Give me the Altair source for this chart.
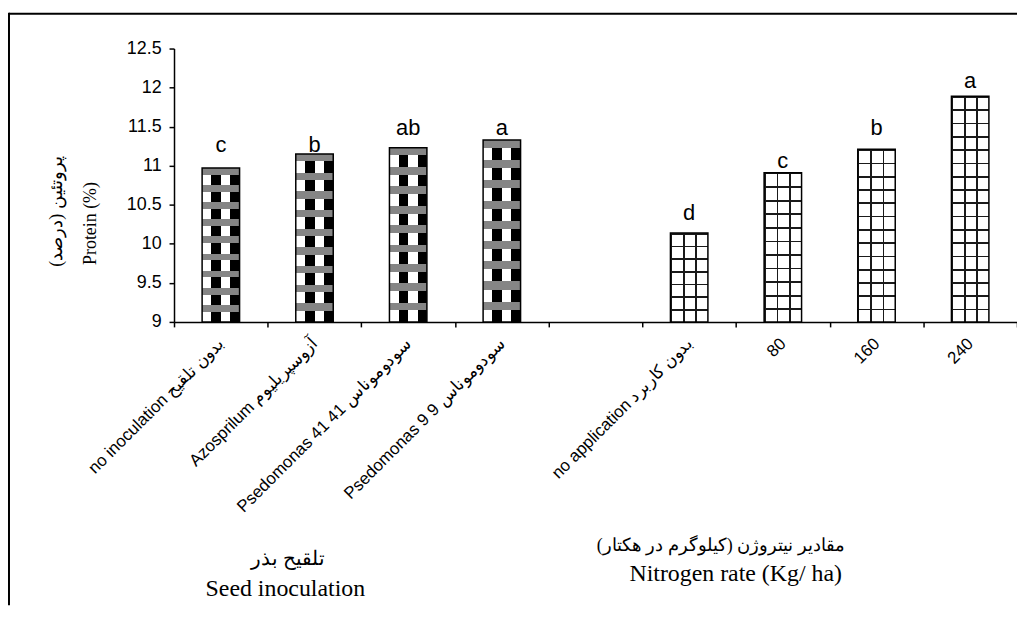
import altair as alt

# ---------------- data ----------------
inoc_en = ["no inoculation", "Azosprilum", "Psedomonas 41", "Psedomonas 9"]
inoc_fa = ["بدون تلقیح", "آزوسپریلیوم", "سودوموناس 41", "سودوموناس 9"]
inoc_protein = [10.97, 11.15, 11.23, 11.33]
inoc_letters = ["c", "b", "ab", "a"]
inoc_letter_at = [11.17, 11.17, 11.39, 11.39]

nitro_en = ["no application", "80", "160", "240"]
nitro_fa = ["بدون کاربرد", "", "", ""]
nitro_protein = [10.14, 10.91, 11.21, 11.89]
nitro_letters = ["d", "c", "b", "a"]
nitro_letter_at = [10.30, 10.97, 11.39, 12.00]

y_ticks = [9, 9.5, 10, 10.5, 11, 11.5, 12, 12.5]
y_title_fa = "پروتئین (درصد)"
y_title_en = "Protein (%)"
inoc_title_fa = "تلقیح بذر"
inoc_title_en = "Seed inoculation"
nitro_title_fa = "مقادیر نیتروژن (کیلوگرم در هکتار)"
nitro_title_en = "Nitrogen rate (Kg/ ha)"
GAP = " "

RLM = "\u200f"


def rtl(s):
    return RLM + s + RLM


def label(en, fa):
    return en + ("   " + fa if fa else "")


inoc_labels = [label(e, f) for e, f in zip(inoc_en, inoc_fa)]
nitro_labels = [label(e, f) for e, f in zip(nitro_en, nitro_fa)]
domain = inoc_labels + [GAP] + nitro_labels

CLEAR = "rgba(255,255,255,0)"


def stripes(direction, n, frac, color, base):
    stops = []
    for k in range(n):
        a = k / n
        b = (k + frac) / n
        c = (k + 1) / n
        stops += [
            {"offset": a, "color": color},
            {"offset": b, "color": color},
            {"offset": b, "color": base},
            {"offset": c, "color": base},
        ]
    return {
        "gradient": "linear",
        "stops": stops,
        "x1": 0,
        "y1": 0,
        "x2": 1 if direction == "x" else 0,
        "y2": 0 if direction == "x" else 1,
    }


records = []
for lab, v, let, la in zip(inoc_labels, inoc_protein, inoc_letters, inoc_letter_at):
    records.append({"cat": lab, "group": "inoc", "protein": v, "letter": let, "la": la,
                    "pat": stripes("y", 9, 0.4, "#858585", CLEAR)})
for lab, v, let, la in zip(nitro_labels, nitro_protein, nitro_letters, nitro_letter_at):
    n = max(1, round((v - 9) * 6))
    records.append({"cat": lab, "group": "nitro", "protein": v, "letter": let, "la": la,
                    "pat": stripes("y", n, 0.13, "#1a1a1a", CLEAR)})

data = alt.Data(values=records)

x_scale = alt.Scale(domain=domain, paddingInner=0, paddingOuter=0)
y_scale = alt.Scale(domain=[9, 12.5], nice=False, zero=False)


def x_axis():
    return alt.Axis(title="", labelAngle=315, tickBand="extent", labelFontSize=17,
                    labelPadding=14, labelAlign="right", labelBaseline="middle")


def y_axis():
    return alt.Axis(values=y_ticks, format="~g", title="", labelFontSize=18, labelPadding=8)


letters = alt.Chart(data).mark_text(
    font="Liberation Sans", fontSize=22, align="center", baseline="alphabetic", color="black"
).encode(
    x=alt.X("cat:N", scale=x_scale, sort=domain, axis=x_axis()),
    y=alt.Y("la:Q", scale=y_scale, axis=y_axis()),
    text="letter:N",
)

base = alt.Chart(data).encode(
    x=alt.X("cat:N", scale=x_scale, axis=x_axis(), sort=domain),
    y=alt.Y("protein:Q", scale=y_scale, axis=y_axis()),
    y2=alt.Y2(datum=9),
)

bw = alt.RelativeBandSize(0.4)

inoc_base = base.transform_filter(alt.datum.group == "inoc").mark_bar(
    width=bw, fill=stripes("x", 2, 0.5, "#ffffff", "#000000"), strokeWidth=0)
inoc_top = base.transform_filter(alt.datum.group == "inoc").mark_bar(
    width=bw, stroke="black", strokeWidth=1.5).encode(fill=alt.Fill("pat:N", scale=None))
nitro_base = base.transform_filter(alt.datum.group == "nitro").mark_bar(
    width=bw, fill=stripes("x", 3, 0.13, "#1a1a1a", "#ffffff"), strokeWidth=0)
nitro_top = base.transform_filter(alt.datum.group == "nitro").mark_bar(
    width=bw, stroke="black", strokeWidth=1.5).encode(fill=alt.Fill("pat:N", scale=None))

one = alt.Data(values=[{"k": 1}])
border_top = alt.Chart(one).mark_rule(color="black", strokeWidth=2).encode(
    x=alt.value(-166), x2=alt.value(848), y=alt.value(-35))
border_left = alt.Chart(one).mark_rule(color="black", strokeWidth=2).encode(
    x=alt.value(-166), y=alt.value(-36), y2=alt.value(560))


def text_layer(s, x, y, size, font, angle=0):
    return alt.Chart(alt.Data(values=[{"t": s}])).mark_text(
        font=font, fontSize=size, align="center", baseline="alphabetic", color="black",
        angle=angle,
    ).encode(text="t:N", x=alt.value(x), y=alt.value(y))


ty1 = text_layer(rtl(y_title_fa), -113, 164, 18, "Liberation Serif", 270)
ty2 = text_layer(y_title_en, -78, 176, 18, "Liberation Serif", 270)
t1 = text_layer(rtl(inoc_title_fa), 115, 520, 20, "Liberation Serif")
t2 = text_layer(inoc_title_en, 112, 551, 24, "Liberation Serif")
t3 = text_layer(rtl(nitro_title_fa), 550, 505, 18, "Liberation Serif")
t4 = text_layer(nitro_title_en, 565, 536, 24, "Liberation Serif")

chart = alt.layer(
    inoc_base, inoc_top, nitro_base, nitro_top, letters,
    border_top, border_left, ty1, ty2, t1, t2, t3, t4,
).properties(
    width=848, height=275,
    autosize=alt.AutoSizeParams(type="none"),
    padding={"left": 167, "top": 39, "right": 0, "bottom": 286},
    background="white",
).configure_view(
    stroke="transparent"
).configure_axis(
    grid=False, labelColor="black", tickColor="black", domainColor="black",
    tickSize=5, tickWidth=1.5, domainWidth=1.5, labelFont="Liberation Sans",
).configure_axisX(
    labelLimit=500, labelOverlap=False, labelFlush=False,
).configure_axisY(
    labelOverlap=False,
)

chart.save("out.html", embed_options={"renderer": "svg", "actions": False})
